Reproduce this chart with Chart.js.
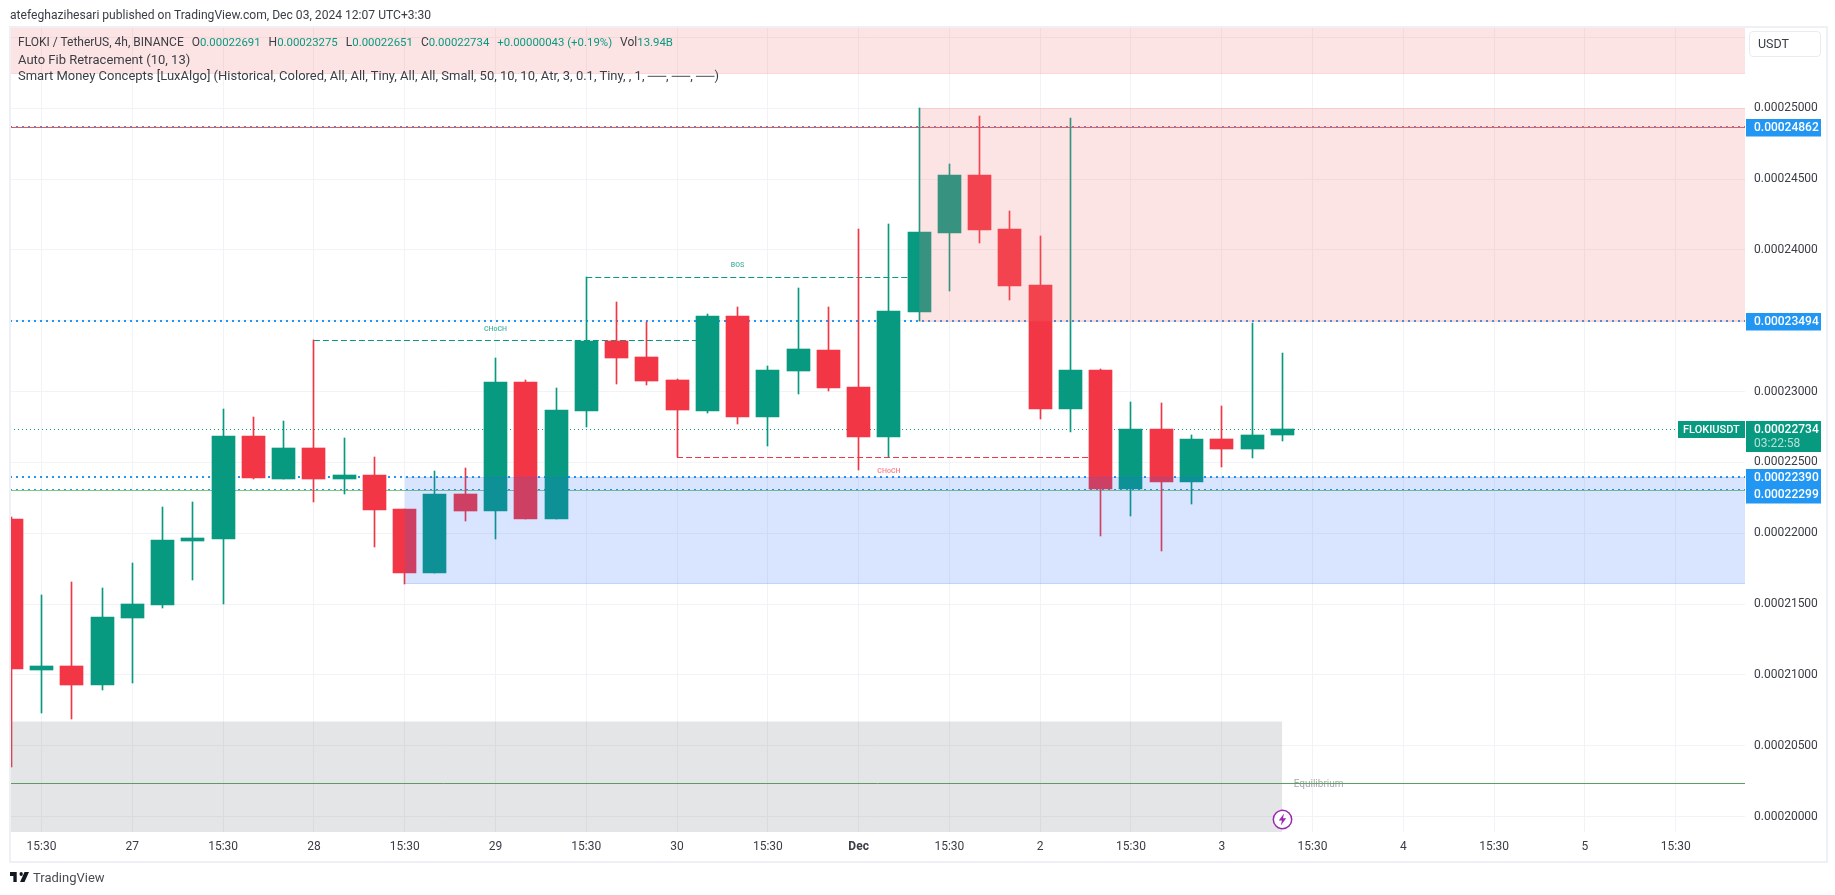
<!DOCTYPE html>
<html>
<head>
<meta charset="utf-8">
<title>FLOKIUSDT</title>
<script src="https://cdn.jsdelivr.net/npm/chart.js@4/dist/chart.umd.js"></script>
<style>
  html, body { margin: 0; background: #fff; overflow: hidden; }
  body { width: 1835px; height: 895px; position: relative; font-family: Roboto, sans-serif; color: #3a3d45; }
  canvas { position: absolute; left: 0; top: 0; }
  .abs { position: absolute; white-space: nowrap; }
  #frame { left: 9px; top: 26px; width: 1815px; height: 833px; border: 2px solid #eff0f5; }
  #published { left: 10px; top: 8px; font-size: 12.1px; }
  .row { left: 18px; font-size: 13px; }
  .row b { font-weight: 400; color: #089981; font-size: 11.4px; }
  .row i { font-style: normal; margin-left: 8px; }
  #usdt { left: 1749px; top: 31px; width: 62px; height: 24px; line-height: 24px; padding-left: 8px; border: 1px solid #e9ebf1; border-radius: 4px; font-size: 12.5px; }
  #brand { left: 33px; top: 870px; font-size: 13px; color: #4a4c52; }
</style>
</head>
<body>
<canvas id="chart" width="1835" height="895"></canvas>

<div class="abs" id="published">atefeghazihesari published on TradingView.com, Dec 03, 2024 12:07 UTC+3:30</div>
<div class="abs row" style="top:35px;font-size:12px">FLOKI / TetherUS, 4h, BINANCE<i>O<b>0.00022691</b></i><i>H<b>0.00023275</b></i><i>L<b>0.00022651</b></i><i>C<b>0.00022734</b></i><i><b>+0.00000043 (+0.19%)</b></i><i>Vol<b>13.94B</b></i></div>
<div class="abs row" style="top:52px">Auto Fib Retracement (10, 13)</div>
<div class="abs row" style="top:68px">Smart Money Concepts [LuxAlgo] (Historical, Colored, All, All, Tiny, All, All, Small, 50, 10, 10, Atr, 3, 0.1, Tiny, , 1, ──, ──, ──)</div>
<div class="abs" id="frame"></div>
<div class="abs" id="usdt">USDT</div>
<svg class="abs" style="left:1272px;top:809px" width="21" height="21" viewBox="0 0 21 21">
  <circle cx="10.5" cy="10.5" r="9.2" fill="#fff" stroke="#9c27b0" stroke-width="1.5"/>
  <path d="M12 4.5 L6.8 11.6 H10 L8.8 16.5 L14.2 9.2 H11 Z" fill="#9c27b0"/>
</svg>
<svg class="abs" style="left:10px;top:872px" width="19" height="10" viewBox="2 6 34 15" preserveAspectRatio="none">
  <path d="M14 6H2v6h6v9h6V6zm14 15h-8l8-15h8l-8 15zm-6-9a3 3 0 1 0 0-6 3 3 0 0 0 0 6z" fill="#131722"/>
</svg>
<div class="abs" id="brand">TradingView</div>

<script>
// candles, 4h bars, left to right
var opens = [0.00022101,0.00021035,0.00021064,0.00020929,0.00021402,0.00021494,0.00021946,0.00021960,0.00022687,0.00022383,
  0.00022602,0.00022383,0.00022411,0.00022172,0.00021720,0.00022277,0.00022157,0.00023068,0.00022101,0.00022863,
  0.00023357,0.00023244,0.00023082,0.00022863,0.00023534,0.00022821,0.00023145,0.00023294,0.00023032,0.00022680,
  0.00023562,0.00024119,0.00024529,0.00024148,0.00023752,0.00022877,0.00023152,0.00022313,0.00022736,0.00022362,
  0.00022665,0.00022595,0.00022691];
var closes = [0.00021044,0.00021064,0.00020929,0.00021409,0.00021501,0.00021953,0.00021967,0.00022687,0.00022390,0.00022602,
  0.00022383,0.00022411,0.00022164,0.00021720,0.00022277,0.00022157,0.00023068,0.00022101,0.00022870,0.00023357,
  0.00023237,0.00023075,0.00022870,0.00023534,0.00022821,0.00023152,0.00023301,0.00023025,0.00022680,0.00023569,
  0.00024126,0.00024529,0.00024140,0.00023745,0.00022877,0.00023152,0.00022313,0.00022736,0.00022362,0.00022665,
  0.00022595,0.00022694,0.00022734];
var highs = [0.00022115,0.00021565,0.00021656,0.00021614,0.00021790,0.00022186,0.00022221,0.00022877,0.00022821,0.00022793,
  0.00023362,0.00022673,0.00022538,0.00022172,0.00022440,0.00022461,0.00023237,0.00023082,0.00023025,0.00023807,
  0.00023632,0.00023491,0.00023089,0.00023548,0.00023597,0.00023181,0.00023731,0.00023597,0.00024148,0.00024183,
  0.00025000,0.00024606,0.00024945,0.00024275,0.00024098,0.00024931,0.00023159,0.00022927,0.00022919,0.00022694,
  0.00022898,0.00023484,0.00023275];
var lows = [0.00020353,0.00020734,0.00020692,0.00020894,0.00020944,0.00021473,0.00021670,0.00021501,0.00022383,0.00022383,
  0.00022221,0.00022277,0.00021903,0.00021642,0.00021720,0.00022087,0.00021960,0.00022101,0.00022101,0.00022750,
  0.00023054,0.00023047,0.00022536,0.00022849,0.00022771,0.00022616,0.00022983,0.00023004,0.00022447,0.00022538,
  0.00023498,0.00023710,0.00024049,0.00023646,0.00022807,0.00022715,0.00021981,0.00022122,0.00021875,0.00022207,
  0.00022468,0.00022531,0.00022651];

// axes
var xTickPos = [1,4,7,10,13,16,19,22,25,28,31,34,37,40,43,46,49,52,55];
var xTickLabels = ['15:30','27','15:30','28','15:30','29','15:30','30','15:30','Dec','15:30','2','15:30','3','15:30','4','15:30','5','15:30'];
var yTickPos = [0.0002,0.000205,0.00021,0.000215,0.00022,0.000225,0.00023,0.000235,0.00024,0.000245,0.00025,0.000255];
var yTickLabels = ['0.00020000','0.00020500','0.00021000','0.00021500','0.00022000','0.00022500','0.00023000','0.00023500','0.00024000','0.00024500','0.00025000',''];
var xMin = -0.043, xMax = 57.29;
var yMin = 0.00019892, yMax = 0.00025573;

// zones: [from bar, to bar, top price, bottom price]
var premiumBand = [xMin, xMax, 0.00025700, 0.00025246];
var supplyZone = [30, xMax, 0.00025000, 0.00023498];
var demandZone = [13, xMax, 0.00022397, 0.00021647];
var discountZone = [xMin, 42, 0.00020675, 0.00019800];

// horizontal levels
var fibLevels = [0.00024869, 0.00022306];
var fibLevelsBold = [0.00023500, 0.00022400];
var resistanceLine = 0.00024862;
var supportLine = 0.00022299;
var equilibriumLine = 0.00020236;
var lastPrice = 0.00022734;

// structure breaks: [from bar, to bar, price]
var chochUp = [10, 23, 0.00023362];
var bosUp = [19, 30, 0.00023807];
var chochDown = [22, 36, 0.00022536];

// small texts on the chart: [text, bar, price]
var greenMarks = [['CHoCH', 16, 0.00023445], ['BOS', 24, 0.00023898]];
var redMarks = [['CHoCH', 29, 0.00022448]];
var equilibriumMark = ['Equilibrium', 43.2, 0.00020236];

// price tags on the right
var blueTags = ['0.00024862', '0.00023494', '0.00022390', '0.00022299'];
var blueTagShift = [0, 0, -0.5, 4];
var lastTag = '0.00022734', countdown = '03:22:58', symbol = 'FLOKIUSDT';

var GREEN = '#089981', RED = '#f23645', BLUE = '#2196f3';

function level(y, color, width, dash) {
  return { type: 'line', data: [{x: xMin, y: y}, {x: xMax, y: y}], borderColor: color, borderWidth: width,
    borderDash: dash || [], pointRadius: 0, order: 3, snapWidth: width };
}
function structure(s, color) {
  return { type: 'line', data: [{x: s[0], y: s[2]}, {x: s[1], y: s[2]}], borderColor: color, borderWidth: 1,
    borderDash: [6, 3], pointRadius: 0, order: 3, snapWidth: 1 };
}
// a zone is two lines with the fill between them
function zone(z, fill, edge) {
  return [
    { type: 'line', data: [{x: z[0], y: z[2]}, {x: z[1], y: z[2]}], borderColor: edge, borderWidth: 1, backgroundColor: fill, fill: '+1', pointRadius: 0, order: 1, snapWidth: 1 },
    { type: 'line', data: [{x: z[0], y: z[3]}, {x: z[1], y: z[3]}], borderColor: edge, borderWidth: 1, pointRadius: 0, order: 1, snapWidth: 1 }
  ];
}

var candleColors = opens.map(function(o, i) { return closes[i] >= o ? GREEN : RED; });
var wicks = highs.map(function(h, i) { return {x: i, y: [lows[i], h]}; });
var bodies = opens.map(function(o, i) { return {x: i, y: [o, closes[i]]}; });

var datasets = []
  .concat(zone(premiumBand, 'rgba(245,120,120,0.2)', 'rgba(242,54,69,0.15)'))
  .concat(zone(supplyZone, 'rgba(245,120,120,0.2)', 'rgba(242,54,69,0.15)'))
  .concat(zone(demandZone, 'rgba(41,110,250,0.175)', 'rgba(41,98,255,0.22)'))
  .concat(zone(discountZone, 'rgba(120,123,134,0.2)', 'rgba(0,0,0,0)'))
  .concat([
    { type: 'bar', data: bodies, backgroundColor: candleColors, barThickness: 23, grouped: false, order: 2 },
    { type: 'bar', data: wicks, backgroundColor: candleColors, barThickness: 1, grouped: false, order: 2 },
    level(fibLevels[0], BLUE, 1, [2, 4]),
    level(fibLevels[1], BLUE, 1, [2, 4]),
    level(fibLevelsBold[0], BLUE, 2, [2, 4]),
    level(fibLevelsBold[1], BLUE, 2, [2, 4]),
    level(lastPrice, GREEN, 1, [1, 3]),
    level(resistanceLine, '#f05350', 1),
    level(supportLine, '#81c784', 1),
    level(equilibriumLine, '#5a9f5f', 1),
    structure(chochUp, GREEN),
    structure(bosUp, GREEN),
    structure(chochDown, RED)
  ]);

// TradingView keeps marks on whole pixels, so do the same
var snapPixels = {
  id: 'snapPixels',
  afterDatasetsUpdate: function(chart) {
    chart.data.datasets.forEach(function(ds, i) {
      chart.getDatasetMeta(i).data.forEach(function(el) {
        if (ds.type === 'bar') {
          el.x = Math.floor(el.x) + 0.5;
          el.y = Math.round(el.y);
          el.base = Math.round(el.base);
        } else {
          el.y = ds.snapWidth === 2 ? Math.round(el.y) : Math.floor(el.y) + 0.5;
        }
      });
    });
  }
};

var chartTexts = {
  id: 'chartTexts',
  beforeDatasetsDraw: function(chart) {
    var ctx = chart.ctx, x = chart.scales.x, y = chart.scales.y;
    ctx.save();
    ctx.textAlign = 'center';
    ctx.textBaseline = 'middle';
    ctx.font = '500 7px Roboto';
    ctx.fillStyle = 'rgba(8,153,129,0.75)';
    greenMarks.forEach(function(m) { ctx.fillText(m[0], x.getPixelForValue(m[1]), y.getPixelForValue(m[2]) + 1); });
    ctx.fillStyle = 'rgba(242,54,69,0.65)';
    redMarks.forEach(function(m) { ctx.fillText(m[0], x.getPixelForValue(m[1]), y.getPixelForValue(m[2]) + 1); });
    ctx.font = '10px Roboto';
    ctx.fillStyle = '#a6a8ad';
    ctx.fillText(equilibriumMark[0], x.getPixelForValue(equilibriumMark[1]), y.getPixelForValue(equilibriumMark[2]) + 1);
    ctx.restore();
  },
  afterDraw: function(chart) {
    var ctx = chart.ctx, y = chart.scales.y, left = chart.chartArea.right + 1;
    ctx.save();
    ctx.textBaseline = 'middle';
    ctx.font = '500 12px Roboto';
    blueTags.forEach(function(t, i) {
      var cy = Math.round(y.getPixelForValue(parseFloat(t)) + blueTagShift[i]);
      ctx.fillStyle = BLUE;
      ctx.fillRect(left, cy - 9, 75, 17.5);
      ctx.fillStyle = '#fff';
      ctx.fillText(t, left + 8, cy);
    });
    var ly = Math.round(y.getPixelForValue(parseFloat(lastTag)));
    ctx.fillStyle = GREEN;
    ctx.fillRect(left, ly - 8, 75, 31);
    ctx.fillRect(chart.chartArea.right - 67, ly - 8, 67, 17);
    ctx.fillStyle = '#fff';
    ctx.fillText(lastTag, left + 8, ly + 1);
    ctx.font = '500 11px Roboto';
    ctx.fillText(symbol, chart.chartArea.right - 62, ly + 1);
    ctx.fillStyle = 'rgba(255,255,255,0.7)';
    ctx.font = '12px Roboto';
    ctx.fillText(countdown, left + 8, ly + 15);
    ctx.restore();
  }
};

new Chart(document.getElementById('chart'), {
  type: 'bar',
  data: { datasets: datasets },
  plugins: [snapPixels, chartTexts],
  options: {
    responsive: false,
    animation: false,
    events: [],
    layout: { padding: { left: 10, top: 27, right: 10, bottom: 35 } },
    plugins: { legend: { display: false }, tooltip: { enabled: false } },
    scales: {
      x: {
        type: 'linear', min: xMin, max: xMax, offset: false,
        grid: { color: '#f2f3f6', offset: false, drawTicks: false },
        border: { display: false },
        afterBuildTicks: function(axis) { axis.ticks = xTickPos.map(function(v) { return {value: v}; }); },
        afterFit: function(axis) { axis.height = 28; },
        ticks: {
          autoSkip: false, maxRotation: 0, padding: 8, color: '#3a3d45',
          font: function(ctx) { return { family: 'Roboto', size: 12, weight: xTickLabels[ctx.index] === 'Dec' ? 'bold' : 'normal' }; },
          callback: function(v, i) { return xTickLabels[i]; }
        }
      },
      y: {
        type: 'linear', position: 'right', min: yMin, max: yMax,
        grid: { color: '#f2f3f6', drawTicks: false },
        border: { display: false },
        afterBuildTicks: function(axis) { axis.ticks = yTickPos.map(function(v) { return {value: v}; }); },
        afterFit: function(axis) { axis.width = 80; },
        ticks: {
          autoSkip: false, padding: 9, color: '#3a3d45', font: { family: 'Roboto', size: 12 },
          callback: function(v, i) { return yTickLabels[i]; }
        }
      }
    }
  }
});
</script>
</body>
</html>
